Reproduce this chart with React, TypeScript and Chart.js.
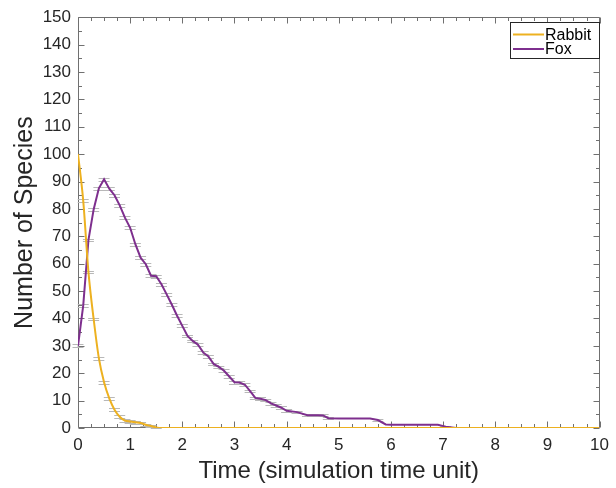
import React, { useEffect, useRef } from 'react';
import { Chart, registerables } from 'chart.js';

Chart.register(...registerables);

// ---- Data ----
const foxTimes = [0, 0.1, 0.2, 0.3, 0.4, 0.5, 0.6, 0.7, 0.8, 0.9, 1.0, 1.1, 1.2, 1.3, 1.4, 1.5, 1.6, 1.7, 1.8, 1.9, 2.0, 2.1, 2.2, 2.3, 2.4, 2.5, 2.6, 2.7, 2.8, 2.9, 3.0, 3.1, 3.2, 3.3, 3.4, 3.5, 3.6, 3.7, 3.8, 3.9, 4.0, 4.2, 4.4, 4.6, 4.7, 4.8, 5.0, 5.6, 5.75, 5.9, 6.0, 6.9, 7.05, 7.25, 10];
const foxCounts = [30, 44.7, 68.6, 79.8, 87.5, 90.8, 87.4, 85, 81.3, 76.8, 73.1, 67.1, 62.2, 59.8, 55.6, 55.4, 52.5, 48.8, 45, 41, 37.3, 33.6, 31.8, 30.4, 27.6, 26.1, 23.4, 22.3, 20.9, 18.8, 16.7, 16.6, 15.8, 13.5, 11, 10.7, 10.2, 9, 8.2, 7.4, 6.3, 5.8, 4.7, 4.7, 4.6, 3.6, 3.5, 3.5, 2.9, 1.3, 1.2, 1.2, 0.5, 0, 0];
const foxErr = [0.5, 0.5, 0.5, 0.5, 0.5, 0.5, 0.5, 0.5, 0.5, 0.5, 0.5, 0.5, 0.5, 0.5, 0.5, 0.5, 0.5, 0.5, 0.5, 0.5, 0.5, 0.5, 0.5, 0.5, 0.5, 0.5, 0.5, 0.5, 0.5, 0.5, 0.5, 0.5, 0.5, 0.5, 0.5, 0.5, 0.5, 0.5, 0.5, 0.5, 0.5, 0.5, 0.5, 0.5, 0.4, 0.4, 0, 0, 0.4, 0, 0, 0, 0.3, 0, 0];

const rabbitTimes = [0, 0.1, 0.2, 0.3, 0.4, 0.5, 0.6, 0.7, 0.8, 0.9, 1.0, 1.1, 1.2, 1.3, 1.4, 1.5, 1.6, 10];
const rabbitCounts = [100, 83, 57, 39.8, 25.5, 16.7, 10.8, 6.7, 4.1, 2.7, 2.4, 2.1, 1.8, 1.2, 0.7, 0.2, 0, 0];
const rabbitErr = [0, 0.5, 0.5, 0.5, 0.5, 0.5, 0.5, 0.5, 0.5, 0.5, 0.5, 0.5, 0.5, 0.4, 0.3, 0.2, 0, 0];

const xTickValues = [0, 1, 2, 3, 4, 5, 6, 7, 8, 9, 10];
const yTickValues = [0, 10, 20, 30, 40, 50, 60, 70, 80, 90, 100, 110, 120, 130, 140, 150];
const seriesNames = ['Rabbit', 'Fox'];

const xTitle = 'Time (simulation time unit)';
const yTitle = 'Number of Species';

// ---- Styles ----
const FONT = '"Liberation Sans", Arial, Helvetica, sans-serif';
const RABBIT_COLOR = '#EDB120';
const FOX_COLOR = '#7E2F8E';
const AXIS_COLOR = '#707070';
const TEXT_COLOR = '#262626';
const ERR_COLOR = '#b8b8b8';

const errors = [rabbitErr, foxErr];

const framePlugin = {
  id: 'matlabFrame',
  beforeDatasetsDraw(chart: any) {
    const { ctx, chartArea, scales } = chart;
    const { left, right, top, bottom } = chartArea;
    const xs = scales.x;
    const ys = scales.y;
    const L = Math.round(left) + 0.5;
    const R = Math.round(right) - 0.5;
    const T = Math.round(top) + 0.5;
    const B = Math.round(bottom) - 0.5;
    ctx.save();
    ctx.strokeStyle = AXIS_COLOR;
    ctx.lineWidth = 1;
    ctx.beginPath();
    ctx.rect(L, T, R - L, B - T);
    ctx.stroke();

    const major = 6;
    const minor = 3.5;
    ctx.beginPath();
    for (let i = 0; i < xTickValues.length; i++) {
      const v = xTickValues[i];
      const px = Math.round(xs.getPixelForValue(v)) + 0.5;
      ctx.moveTo(px, B); ctx.lineTo(px, B - major);
      ctx.moveTo(px, T); ctx.lineTo(px, T + major);
      if (i < xTickValues.length - 1) {
        const step = xTickValues[i + 1] - v;
        for (let k = 1; k < 4; k++) {
          const m = Math.round(xs.getPixelForValue(v + (step * k) / 4)) + 0.5;
          ctx.moveTo(m, B); ctx.lineTo(m, B - minor);
          ctx.moveTo(m, T); ctx.lineTo(m, T + minor);
        }
      }
    }
    for (let i = 0; i < yTickValues.length; i++) {
      const v = yTickValues[i];
      const py = Math.round(ys.getPixelForValue(v)) + 0.5;
      ctx.moveTo(L, py); ctx.lineTo(L + major, py);
      ctx.moveTo(R, py); ctx.lineTo(R - major, py);
      if (i < yTickValues.length - 1) {
        const step = yTickValues[i + 1] - v;
        const m = Math.round(ys.getPixelForValue(v + step / 2)) + 0.5;
        ctx.moveTo(L, m); ctx.lineTo(L + minor, m);
        ctx.moveTo(R, m); ctx.lineTo(R - minor, m);
      }
    }
    ctx.stroke();

    // error bars
    ctx.strokeStyle = ERR_COLOR;
    ctx.lineWidth = 1;
    chart.data.datasets.forEach((ds: any, di: number) => {
      const errs = errors[di];
      ds.data.forEach((p: any, i: number) => {
        const e = errs[i];
        if (!e) return;
        const px = xs.getPixelForValue(p.x);
        const y1 = Math.round(ys.getPixelForValue(p.y + e)) + 0.5;
        const y2 = Math.round(ys.getPixelForValue(p.y - e)) + 0.5;
        ctx.beginPath();
        ctx.moveTo(px, y1); ctx.lineTo(px, y2);
        ctx.moveTo(px - 5.5, y1); ctx.lineTo(px + 5.5, y1);
        ctx.moveTo(px - 5.5, y2); ctx.lineTo(px + 5.5, y2);
        ctx.stroke();
      });
    });
    ctx.restore();
  },
  afterDatasetsDraw(chart: any) {
    const { ctx } = chart;
    ctx.save();
    const bx = 510.5, by = 22.5, bw = 89, bh = 36;
    ctx.fillStyle = '#ffffff';
    ctx.fillRect(bx, by, bw, bh);
    ctx.strokeStyle = '#262626';
    ctx.lineWidth = 1;
    ctx.strokeRect(bx, by, bw, bh);
    const colors = [RABBIT_COLOR, FOX_COLOR];
    const rows = [34.5, 49];
    ctx.font = `16px ${FONT}`;
    ctx.textBaseline = 'middle';
    ctx.textAlign = 'left';
    seriesNames.forEach((name, i) => {
      ctx.strokeStyle = colors[i];
      ctx.lineWidth = 2;
      ctx.beginPath();
      ctx.moveTo(513, rows[i]);
      ctx.lineTo(544, rows[i]);
      ctx.stroke();
      ctx.fillStyle = '#000000';
      ctx.fillText(name, 545, rows[i] + 1);
    });
    ctx.restore();
  },
};

export default function App() {
  const ref = useRef<HTMLCanvasElement>(null);
  useEffect(() => {
    if (!ref.current) return;
    const chart = new Chart(ref.current, {
      type: 'scatter',
      data: {
        datasets: [
          {
            label: seriesNames[0],
            data: rabbitTimes.map((t, i) => ({ x: t, y: rabbitCounts[i] })),
            showLine: true,
            borderColor: RABBIT_COLOR,
            backgroundColor: RABBIT_COLOR,
            borderWidth: 2,
            pointRadius: 0,
            cubicInterpolationMode: 'monotone',
            fill: false,
          },
          {
            label: seriesNames[1],
            data: foxTimes.map((t, i) => ({ x: t, y: foxCounts[i] })),
            showLine: true,
            borderColor: FOX_COLOR,
            backgroundColor: FOX_COLOR,
            borderWidth: 2,
            pointRadius: 0,
            fill: false,
          },
        ],
      } as any,
      options: {
        animation: false,
        responsive: false,
        devicePixelRatio: 1,
        layout: { padding: { top: 15, right: 10, left: 0, bottom: 0 } },
        plugins: { legend: { display: false }, tooltip: { enabled: false } },
        scales: {
          x: {
            type: 'linear',
            min: 0,
            max: 10,
            afterFit: (s: any) => { s.height = 60; },
            afterBuildTicks: (s: any) => { s.ticks = xTickValues.map((v) => ({ value: v })); },
            grid: { display: false, drawTicks: false },
            border: { display: false },
            ticks: { color: TEXT_COLOR, font: { family: FONT, size: 17 }, padding: 7, maxRotation: 0, autoSkip: false },
            title: { display: true, text: xTitle, color: TEXT_COLOR, font: { family: FONT, size: 24 }, padding: { top: 0, bottom: 2 } },
          },
          y: {
            type: 'linear',
            min: 0,
            max: 150,
            afterFit: (s: any) => { s.width = 78; },
            afterBuildTicks: (s: any) => { s.ticks = yTickValues.map((v) => ({ value: v })); },
            grid: { display: false, drawTicks: false },
            border: { display: false },
            ticks: { color: TEXT_COLOR, font: { family: FONT, size: 17 }, padding: 7, autoSkip: false },
            title: { display: true, text: yTitle, color: TEXT_COLOR, font: { family: FONT, size: 25 }, padding: { top: 10, bottom: 0 } },
          },
        },
      } as any,
      plugins: [framePlugin],
    });
    return () => chart.destroy();
  }, []);
  return (
    <div style={{ position: 'absolute', left: 0, top: 0, width: 616, height: 488, background: '#ffffff' }}>
      <canvas ref={ref} width={616} height={488} style={{ display: 'block' }} />
    </div>
  );
}
